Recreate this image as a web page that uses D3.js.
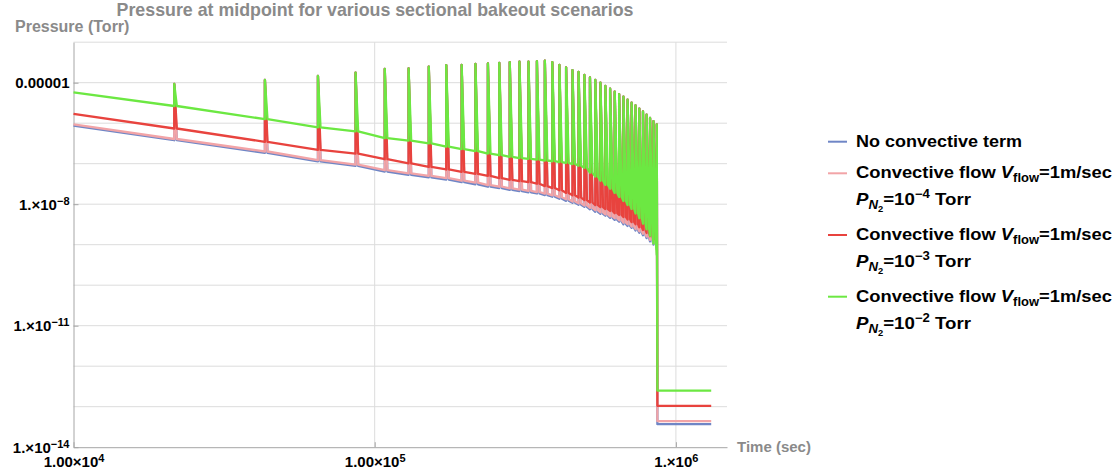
<!DOCTYPE html>
<html>
<head>
<meta charset="utf-8">
<script src="https://cdn.jsdelivr.net/npm/d3@7"></script>
<style>
  body { margin: 0; background: #fff; }
  svg { display: block; font-family: "Liberation Sans", Arial, Helvetica, sans-serif; font-weight: bold; }
</style>
</head>
<body>
<svg id="chart" width="1119" height="475"></svg>
<script>
// Bakeout section start times (sec) - one pressure spike each
const spikeTimes = [21600, 43200, 64800, 86400, 108000, 129600, 151200, 172800, 194400, 216000,
    237600, 259200, 280800, 302400, 324000, 345600, 367200, 388800, 410400, 432000,
    453600, 475200, 496800, 518400, 540000, 561600, 583200, 604800, 626400, 648000,
    669600, 691200, 712800, 734400, 756000, 777600, 799200, 820800, 842400, 864000];

// Spike tops (Torr), same height for every scenario
const spikePeaks = [9.3e-6, 1.17e-5, 1.48e-5, 1.78e-5, 2.19e-5, 2.24e-5, 2.5e-5, 2.7e-5, 2.75e-5, 2.9e-5,
    3.0e-5, 3.1e-5, 3.2e-5, 3.3e-5, 3.3e-5, 3.4e-5, 3.5e-5, 3.2e-5, 2.75e-5, 2.4e-5,
    2.04e-5, 1.86e-5, 1.55e-5, 1.35e-5, 1.17e-5, 1.0e-5, 8.3e-6, 7.1e-6, 6.0e-6, 5.2e-6,
    4.5e-6, 3.8e-6, 3.2e-6, 2.75e-6, 2.3e-6, 1.95e-6, 1.62e-6, 1.35e-6, 1.12e-6, 9.3e-7];

const startTime = 1e4;
const dropTime = 868000;
const endTime = 1.31e6;

// Pressure at t = 1e4 and just before every spike (Torr)
const blueValleys = [8.7e-7, 3.8e-7, 1.85e-7, 1.14e-7, 8.8e-8, 6.4e-8, 5.3e-8, 4.6e-8, 4.05e-8, 3.5e-8, 3.1e-8,
    2.7e-8, 2.5e-8, 2.25e-8, 2.1e-8, 1.97e-8, 1.84e-8, 1.67e-8, 1.53e-8, 1.36e-8, 1.21e-8,
    1.08e-8, 9.7e-9, 8.6e-9, 7.5e-9, 6.5e-9, 5.8e-9, 5.2e-9, 4.6e-9, 4.1e-9, 3.7e-9,
    3.2e-9, 2.9e-9, 2.6e-9, 2.25e-9, 1.97e-9, 1.71e-9, 1.45e-9, 1.21e-9, 1.01e-9, 7.6e-10];
const pinkValleys = [9.3e-7, 4.07e-7, 2.0e-7, 1.23e-7, 9.5e-8, 6.9e-8, 5.75e-8, 5.0e-8, 4.4e-8, 3.8e-8, 3.4e-8,
    2.95e-8, 2.7e-8, 2.45e-8, 2.3e-8, 2.14e-8, 2.0e-8, 1.82e-8, 1.66e-8, 1.48e-8, 1.32e-8,
    1.17e-8, 1.05e-8, 9.3e-9, 8.1e-9, 7.1e-9, 6.3e-9, 5.6e-9, 5.0e-9, 4.5e-9, 4.0e-9,
    3.5e-9, 3.2e-9, 2.8e-9, 2.45e-9, 2.14e-9, 1.86e-9, 1.58e-9, 1.32e-9, 1.10e-9, 8.3e-10];
const redValleys = [1.7e-6, 7.4e-7, 3.47e-7, 2.19e-7, 1.78e-7, 1.29e-7, 1.02e-7, 8.3e-8, 7.2e-8, 6.3e-8, 5.6e-8,
    5.0e-8, 4.4e-8, 4.0e-8, 3.7e-8, 3.5e-8, 3.2e-8, 2.8e-8, 2.5e-8, 2.2e-8, 1.9e-8,
    1.66e-8, 1.45e-8, 1.26e-8, 1.1e-8, 9.5e-9, 8.5e-9, 7.6e-9, 6.8e-9, 6.0e-9, 5.4e-9,
    4.8e-9, 4.2e-9, 3.6e-9, 3.2e-9, 2.7e-9, 2.3e-9, 1.95e-9, 1.62e-9, 1.32e-9, 1.0e-9];
const greenValleys = [5.75e-6, 2.66e-6, 1.26e-6, 7.9e-7, 6.3e-7, 4.27e-7, 3.72e-7, 3.16e-7, 2.63e-7, 2.29e-7, 2.04e-7,
    1.78e-7, 1.62e-7, 1.48e-7, 1.38e-7, 1.32e-7, 1.26e-7, 1.2e-7, 1.15e-7, 1.1e-7, 1.05e-7,
    9.8e-8, 8.9e-8, 7.9e-8, 6.0e-8, 4.8e-8, 3.8e-8, 3.0e-8, 2.4e-8, 1.9e-8, 1.5e-8,
    1.2e-8, 9.5e-9, 7.6e-9, 5.9e-9, 4.5e-9, 3.3e-9, 2.4e-9, 1.66e-9, 1.07e-9, 5.6e-10];

// Level after the bakeout ends (Torr)
const finalLevels = [3.7e-14, 4.4e-14, 1.05e-13, 2.5e-13];

const seriesColors = ["#6f86c6", "#f2a4a7", "#e8433e", "#6ce842"];

// Axis ticks and labels: [mantissa text, exponent]
const xTicks = [1e4, 1e5, 1e6];
const xTickLabels = [["1.00×10", "4"], ["1.00×10", "5"], ["1.×10", "6"]];
const yTicks = [1e-5, 1e-8, 1e-11, 1e-14];
const yTickLabels = [["0.00001", ""], ["1.×10", "−8"], ["1.×10", "−11"], ["1.×10", "−14"]];
const yGrid = [1e-13, 1e-12, 1e-11, 1e-10, 1e-9, 1e-8, 1e-7, 1e-6, 1e-5, 1e-4];
const xGrid = [1e5, 1e6];

// Legend text: segments of [text, kind]
const legendLabels = [
    [[["No convective term", "n"]]],
    [[["Convective flow ", "n"], ["V", "i"], ["flow", "sub"], ["=1m/sec", "n"]],
     [["P", "i"], ["N", "isub"], ["2", "sub2"], ["=10", "n"], ["−4", "sup"], [" Torr", "n"]]],
    [[["Convective flow ", "n"], ["V", "i"], ["flow", "sub"], ["=1m/sec", "n"]],
     [["P", "i"], ["N", "isub"], ["2", "sub2"], ["=10", "n"], ["−3", "sup"], [" Torr", "n"]]],
    [[["Convective flow ", "n"], ["V", "i"], ["flow", "sub"], ["=1m/sec", "n"]],
     [["P", "i"], ["N", "isub"], ["2", "sub2"], ["=10", "n"], ["−2", "sup"], [" Torr", "n"]]]
];
const legendRowWidths = [[166], [256, 115], [256, 115], [256, 115]];

const svg = d3.select("#chart");

const x = d3.scaleLog().domain([1e4, 1.478e6]).range([73.5, 727]);
const y = d3.scaleLog().domain([1e-14, 1e-4]).range([447.2, 42.2]);

// Grid lines
svg.append("g")
    .selectAll("line")
    .data(yGrid)
    .join("line")
    .attr("x1", x.range()[0]).attr("x2", x.range()[1])
    .attr("y1", d => y(d)).attr("y2", d => y(d))
    .attr("stroke", "#dcdcdc").attr("stroke-width", 1);

svg.append("g")
    .selectAll("line")
    .data(xGrid)
    .join("line")
    .attr("x1", d => x(d)).attr("x2", d => x(d))
    .attr("y1", y.range()[0]).attr("y2", y.range()[1])
    .attr("stroke", "#dcdcdc").attr("stroke-width", 1);

// put a mantissa and superscript exponent into a tick label
function expLabel(sel, labels, ticks) {
    sel.each(function(d) {
        const lab = labels[ticks.indexOf(d)];
        const t = d3.select(this).text(null);
        t.append("tspan").text(lab[0]);
        if (lab[1]) t.append("tspan").attr("dy", "-0.45em").style("font-size", "11px").text(lab[1]);
    });
}

// Axes
const xAxis = svg.append("g")
    .attr("transform", `translate(0,${y(1e-14)})`)
    .call(d3.axisBottom(x).tickValues(xTicks).tickSize(-5).tickSizeOuter(0).tickPadding(9).tickFormat(d => d));
const yAxis = svg.append("g")
    .attr("transform", `translate(${x(1e4)},0)`)
    .call(d3.axisLeft(y).tickValues(yTicks).tickSize(-5).tickSizeOuter(0).tickPadding(4).tickFormat(d => d));

[xAxis, yAxis].forEach(g => {
    g.attr("font-family", null).attr("font-size", null);
    g.select(".domain").attr("stroke", "#a6a6a6");
    g.selectAll(".tick line").attr("stroke", "#a6a6a6");
    g.selectAll(".tick text").attr("fill", "#000").style("font-size", "15px");
});
xAxis.selectAll(".tick text").call(expLabel, xTickLabels, xTicks);
yAxis.selectAll(".tick text").call(expLabel, yTickLabels, yTicks);

// Build the path points of one scenario from its values
function buildPoints(valleys, finalLevel) {
    const pts = [[startTime, valleys[0]]];
    spikeTimes.forEach((t, i) => {
        pts.push([t, valleys[i + 1]]);
        pts.push([t, spikePeaks[i]]);
        if (i < spikeTimes.length - 1) pts.push([t * 1.02, valleys[i + 1]]);
    });
    pts.push([dropTime, finalLevel]);
    pts.push([endTime, finalLevel]);
    return pts;
}

const line = d3.line()
    .x(d => x(d[0]))
    .y(d => y(d[1]));

const allValleys = [blueValleys, pinkValleys, redValleys, greenValleys];

allValleys.forEach((v, i) => {
    svg.append("path")
        .datum(buildPoints(v, finalLevels[i]))
        .attr("fill", "none")
        .attr("stroke", seriesColors[i])
        .attr("stroke-width", 2.3)
        .attr("stroke-linejoin", "round")
        .attr("d", line);
});

// Titles
svg.append("text")
    .attr("x", 375).attr("y", 16)
    .attr("text-anchor", "middle")
    .attr("fill", "#8a8a8a")
    .style("font-size", "17.8px")
    .text("Pressure at midpoint for various sectional bakeout scenarios");

svg.append("text")
    .attr("x", 15).attr("y", 32)
    .attr("fill", "#8a8a8a")
    .style("font-size", "16px")
    .text("Pressure (Torr)");

svg.append("text")
    .attr("x", 737).attr("y", 452)
    .attr("fill", "#8a8a8a")
    .style("font-size", "15px")
    .text("Time (sec)");

// Legend
const kinds = {
    n:    { size: 17, off: 0, italic: false },
    i:    { size: 17, off: 0, italic: true },
    sub:  { size: 12, off: 4, italic: false },
    isub: { size: 12, off: 4, italic: true },
    sub2: { size: 8.5, off: 7, italic: false },
    sup:  { size: 12, off: -7, italic: false }
};
const legendY = [141.7, 173.3, 235, 296.7];
const legend = svg.append("g");

legendLabels.forEach((rows, i) => {
    legend.append("line")
        .attr("x1", 828).attr("x2", 847)
        .attr("y1", legendY[i]).attr("y2", legendY[i])
        .attr("stroke", seriesColors[i]).attr("stroke-width", 2);
    rows.forEach((segs, r) => {
        const t = legend.append("text")
            .attr("x", 856)
            .attr("y", legendY[i] + 5 + r * 26.8)
            .attr("fill", "#000")
            .attr("textLength", legendRowWidths[i][r])
            .attr("lengthAdjust", "spacingAndGlyphs");
        let cur = 0;
        segs.forEach(([txt, k]) => {
            const s = kinds[k];
            t.append("tspan")
                .attr("dy", s.off - cur)
                .style("font-size", s.size + "px")
                .style("font-style", s.italic ? "italic" : "normal")
                .text(txt);
            cur = s.off;
        });
    });
});
</script>
</body>
</html>
